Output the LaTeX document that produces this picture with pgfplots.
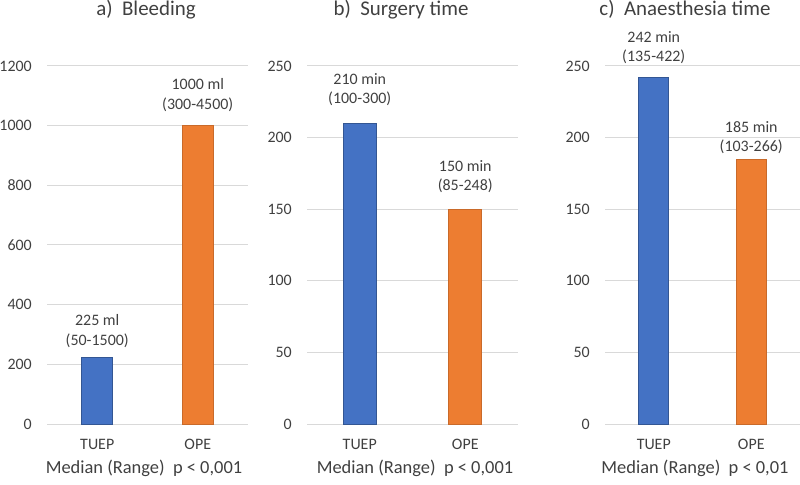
\documentclass[border=0pt]{standalone}
\usepackage{pgfplots}
\pgfplotsset{compat=1.18}
\usepackage{fontspec}
\setmainfont{Carlito}
\definecolor{cblue}{HTML}{4472C4}
\definecolor{corange}{HTML}{ED7D31}
\definecolor{cgrid}{HTML}{D9D9D9}
\definecolor{ctext}{HTML}{404040}
\pgfplotsset{panel/.style={
  scale only axis, anchor=south west, height=358bp,
  ymin=0, xmin=-0.5, xmax=1.5,
  axis line style={draw=none}, major tick length=0pt,
  ymajorgrids, grid style={cgrid, line width=1bp},
  xtick={0,1}, xticklabels={TUEP,OPE},
  tick label style={font=\fontsize{16}{19}\selectfont, text=ctext},
  xticklabel style={anchor=north, inner sep=0pt, yshift=-15bp},
  yticklabel style={anchor=east, inner sep=0pt},
  /pgf/number format/assume math mode=true,
  /pgf/number format/set thousands separator={},
  scaled ticks=false,
  ybar, bar shift=0pt,
  nodes near coords, point meta=explicit symbolic,
  every node near coord/.append style={anchor=south, inner sep=0pt, align=center, font=\fontsize{16}{19.5}\selectfont, text=ctext},
  clip=false,
}}
\begin{document}
\begin{tikzpicture}
\useasboundingbox (0,0) rectangle (800bp,485bp);
% a) Bleeding
\begin{axis}[panel, at={(47bp,61bp)}, width=201bp, ymax=1200, ytick={0,200,...,1200},
  bar width=31bp, yticklabel style={xshift=-15bp}]
\addplot[fill=cblue, draw=cblue!75!black, line width=0.6bp, nodes near coords style={yshift=9bp}]
  coordinates {(0,225) [{225 ml\\(50-1500)}]};
\addplot[fill=corange, draw=corange!85!black, line width=0.6bp, nodes near coords style={yshift=14bp}]
  coordinates {(1,1000) [{1000 ml\\(300-4500)}]};
\end{axis}
% b) Surgery time
\begin{axis}[panel, at={(307bp,61bp)}, width=211bp, ymax=250, ytick={0,50,...,250},
  bar width=33bp, yticklabel style={xshift=-15bp}]
\addplot[fill=cblue, draw=cblue!75!black, line width=0.6bp, nodes near coords style={yshift=17bp}]
  coordinates {(0,210) [{210 min\\(100-300)}]};
\addplot[fill=corange, draw=corange!85!black, line width=0.6bp, nodes near coords style={yshift=16bp}]
  coordinates {(1,150) [{150 min\\(85-248)}]};
\end{axis}
% c) Anaesthesia time
\begin{axis}[panel, at={(605bp,61bp)}, width=195bp, ymax=250, ytick={0,50,...,250},
  bar width=30bp, yticklabel style={xshift=-15bp}]
\addplot[fill=cblue, draw=cblue!75!black, line width=0.6bp, nodes near coords style={yshift=13bp}]
  coordinates {(0,242) [{242 min\\(135-422)}]};
\addplot[fill=corange, draw=corange!85!black, line width=0.6bp, nodes near coords style={yshift=5bp}]
  coordinates {(1,185) [{185 min\\(103-266)}]};
\end{axis}
\begin{scope}[every node/.style={anchor=base, inner sep=0pt, text=ctext}]
\node[font=\fontsize{21}{25}\selectfont] at (146bp,469bp) {a)\ \ Bleeding};
\node[font=\fontsize{21}{25}\selectfont] at (401bp,469bp) {b)\ \ Surgery time};
\node[font=\fontsize{21}{25}\selectfont] at (685bp,469bp) {c)\ \ Anaesthesia time};
\node[font=\fontsize{18.5}{22}\selectfont] at (144bp,12bp) {Median (Range)\ \ p < 0,001};
\node[font=\fontsize{18.5}{22}\selectfont] at (415bp,12bp) {Median (Range)\ \ p < 0,001};
\node[font=\fontsize{18.5}{22}\selectfont] at (695bp,12bp) {Median (Range)\ \ p < 0,01};
\end{scope}
\end{tikzpicture}
\end{document}
